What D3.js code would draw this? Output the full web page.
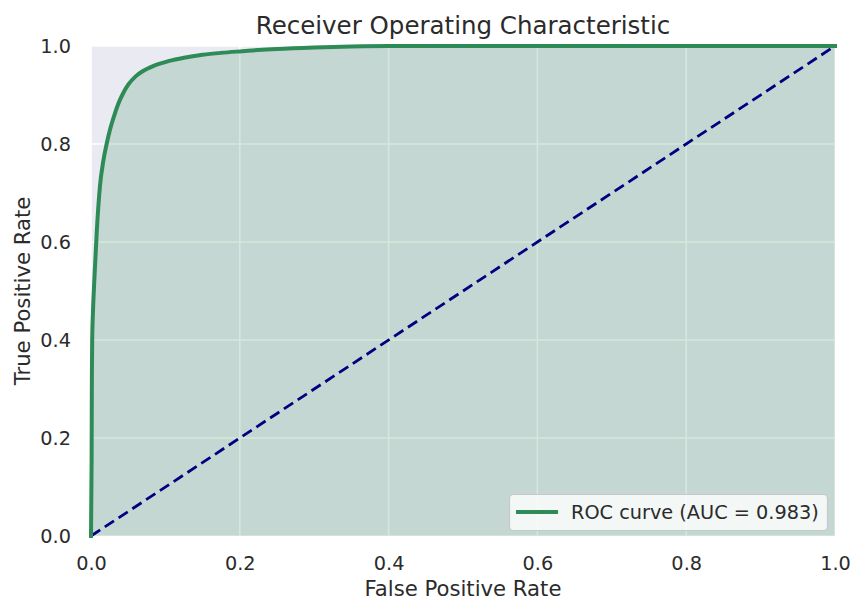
<!DOCTYPE html>
<html>
<head>
<meta charset="utf-8">
<script src="https://cdn.jsdelivr.net/npm/d3@7"></script>
<style>
  body { margin: 0; background: #ffffff; }
  svg text { font-family: "DejaVu Sans", sans-serif; fill: #2b2b2b; }
</style>
</head>
<body>
<svg id="chart" width="853" height="601"></svg>
<script>
// ROC curve points (false positive rate, true positive rate)
const fpr = [0, 0.0008, 0.0012, 0.0016, 0.0027, 0.0044, 0.0077, 0.0121, 0.0165, 0.0210, 0.0255, 0.0310, 0.0367, 0.0430, 0.0500, 0.0600, 0.0700, 0.0850, 0.1040, 0.1250, 0.1500, 0.1750, 0.2000, 0.2500, 0.3000, 0.3500, 0.4000, 0.6000, 0.8000, 1.0];
const tpr = [0, 0.15, 0.33, 0.40, 0.46, 0.52, 0.62, 0.715, 0.765, 0.800, 0.829, 0.857, 0.882, 0.903, 0.921, 0.938, 0.949, 0.960, 0.969, 0.976, 0.982, 0.986, 0.989, 0.994, 0.997, 0.999, 1.0, 1.0, 1.0, 1.0];
const aucValue = 0.983;
const tickValues = [0, 0.2, 0.4, 0.6, 0.8, 1.0];

const svg = d3.select("#chart");
const margin = { left: 91, right: 18, top: 46, bottom: 65 };
const width = 853 - margin.left - margin.right;
const height = 601 - margin.top - margin.bottom;

const x = d3.scaleLinear().domain([0, 1]).range([margin.left, margin.left + width]);
const y = d3.scaleLinear().domain([0, 1]).range([margin.top + height, margin.top]);

// plot background
svg.append("rect")
  .attr("x", x(0)).attr("y", y(1))
  .attr("width", x(1) - x(0)).attr("height", y(0) - y(1))
  .attr("fill", "#eaeaf2");

// grid
const grid = svg.append("g");
grid.selectAll("line.vx").data(tickValues).join("line")
  .attr("x1", d => x(d)).attr("x2", d => x(d))
  .attr("y1", y(0)).attr("y2", y(1))
  .attr("stroke", "#ffffff").attr("stroke-width", 1.6);
grid.selectAll("line.hy").data(tickValues).join("line")
  .attr("x1", x(0)).attr("x2", x(1))
  .attr("y1", d => y(d)).attr("y2", d => y(d))
  .attr("stroke", "#ffffff").attr("stroke-width", 1.6);

const pts = fpr.map((f, i) => [f, tpr[i]]);

// area under the curve
const area = d3.area().curve(d3.curveMonotoneX)
  .x(d => x(d[0])).y0(y(0)).y1(d => y(d[1]));
svg.append("path").datum(pts)
  .attr("d", area)
  .attr("fill", "#2e8b57").attr("fill-opacity", 0.2);

// chance diagonal
svg.append("path").datum([[0, 0], [1, 1]])
  .attr("d", d3.line().x(d => x(d[0])).y(d => y(d[1])))
  .attr("fill", "none").attr("stroke", "#000080")
  .attr("stroke-width", 2.8).attr("stroke-dasharray", "11,5.5");

// ROC curve
svg.append("path").datum(pts)
  .attr("d", d3.line().curve(d3.curveMonotoneX).x(d => x(d[0])).y(d => y(d[1])))
  .attr("fill", "none").attr("stroke", "#2e8b57")
  .attr("stroke-width", 4).attr("stroke-linejoin", "round").attr("stroke-linecap", "square");

// axes
const fmt = d3.format(".1f");
const xAxis = svg.append("g").attr("transform", `translate(0,${y(0)})`)
  .call(d3.axisBottom(x).tickValues(tickValues).tickFormat(fmt).tickSize(0).tickPadding(20));
const yAxis = svg.append("g").attr("transform", `translate(${x(0)},0)`)
  .call(d3.axisLeft(y).tickValues(tickValues).tickFormat(fmt).tickSize(0).tickPadding(20));
[xAxis, yAxis].forEach(a => {
  a.select(".domain").remove();
  a.selectAll("text").attr("font-size", 19.3).attr("font-family", "DejaVu Sans").attr("fill", "#2b2b2b");
});

// title and axis labels
svg.append("text").attr("x", x(0.5)).attr("y", 34)
  .attr("text-anchor", "middle").attr("font-size", 24.5)
  .text("Receiver Operating Characteristic");
svg.append("text").attr("x", x(0.5)).attr("y", 596)
  .attr("text-anchor", "middle").attr("font-size", 21.2)
  .text("False Positive Rate");
svg.append("text")
  .attr("transform", `translate(30,${y(0.5)}) rotate(-90)`)
  .attr("text-anchor", "middle").attr("font-size", 21.2)
  .text("True Positive Rate");

// legend
const lg = svg.append("g");
lg.append("rect").attr("x", 509.5).attr("y", 494.5).attr("width", 318).attr("height", 36)
  .attr("rx", 4).attr("fill", "#ffffff").attr("fill-opacity", 0.8)
  .attr("stroke", "#c8c8c8").attr("stroke-width", 1.2);
lg.append("line").attr("x1", 516).attr("x2", 558).attr("y1", 512).attr("y2", 512)
  .attr("stroke", "#2e8b57").attr("stroke-width", 4);
lg.append("text").attr("x", 571).attr("y", 519)
  .attr("font-size", 19.3)
  .text(`ROC curve (AUC = ${aucValue.toFixed(3)})`);
</script>
</body>
</html>
